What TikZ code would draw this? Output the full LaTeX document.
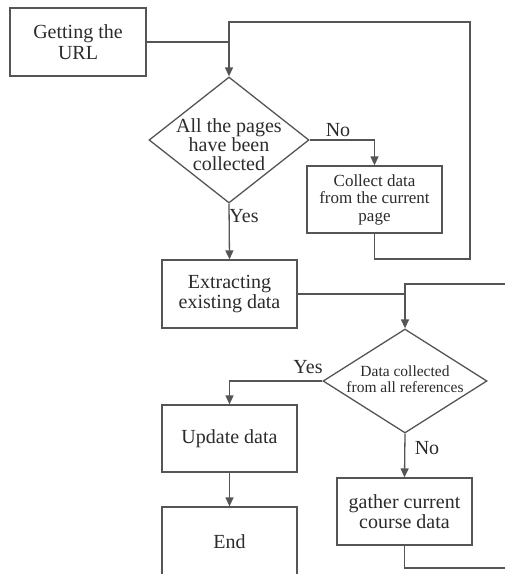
\documentclass[tikz,border=0pt]{standalone}
\usepackage{fontspec}
\setmainfont{Liberation Serif}
\usetikzlibrary{shapes.geometric,arrows.meta}
\definecolor{ln}{HTML}{555555}
\definecolor{tx}{HTML}{2b2b2b}
\begin{document}
\begin{tikzpicture}[x=1pt,y=-1pt,
 box/.style={draw=ln,line width=1.3pt,minimum width=135pt,minimum height=67pt,inner sep=0pt,align=center,text=tx,font=\fontsize{20}{20.5}\selectfont},
 dia/.style={draw=ln,line width=1.3pt,diamond,inner sep=0pt},
 con/.style={draw=ln,line width=1.3pt},
 arr/.style={con,-{Triangle[length=9pt,width=8pt]}},
 lab/.style={text=tx,font=\fontsize{20}{20}\selectfont,inner sep=0pt}]
\useasboundingbox (0,0) rectangle (505,574);
\node[box,minimum width=136pt,minimum height=68pt] (url) at (78,42) {Getting the\\URL};
\node[dia,minimum width=160pt,minimum height=126pt,
  label={[name=d1t,align=center,text=tx,inner sep=0pt,yshift=-5pt,font=\fontsize{20}{19}\selectfont]center:{All the pages\\have been\\collected}}] (d1) at (229,140) {};
\node[box,font=\fontsize{17}{17.5}\selectfont] (collect) at (374.5,199.5) {Collect data\\from the current\\page};
\node[box,minimum height=68pt] (extract) at (229.5,294) {Extracting\\existing data};
\node[dia,minimum width=164pt,minimum height=104pt,
  label={[name=d2t,align=center,text=tx,inner sep=0pt,yshift=2pt,font=\fontsize{15.5}{16.5}\selectfont]center:{Data collected\\from all references}}] (d2) at (405,381) {};
\node[box] (update) at (229.5,438.5) {Update data};
\node[box,minimum height=69pt] (end) at (229.5,541.5) {End};
\node[box] (gather) at (404.5,511.5) {gather current\\course data};
\coordinate (r1) at (470,259);
\coordinate (t1) at (470,22);
\coordinate (r2) at (520,568);
\coordinate (t2) at (520,284);
\draw[con] (url.east) -- (url.east -| d1.north);
\draw[arr] (collect.south) |- (r1) -- (t1) -| (d1.north);
\draw[arr] (d1.east) -| (collect.north);
\draw[arr] (d1.south) -- (extract.north);
\draw[con] (extract.east) -- (extract.east -| d2.north);
\draw[arr] (gather.south) |- (r2) -- (t2) -| (d2.north);
\draw[arr] (d2.west) -| (update.north);
\draw[arr] (d2.south) -- (gather.north);
\draw[arr] (update.south) -- (end.north);
\node[lab] (no1) at (338,130) {No};
\node[lab] (yes1) at (244,216) {Yes};
\node[lab] (yes2) at (308,367) {Yes};
\node[lab] (no2) at (427,448) {No};
\end{tikzpicture}
\end{document}
